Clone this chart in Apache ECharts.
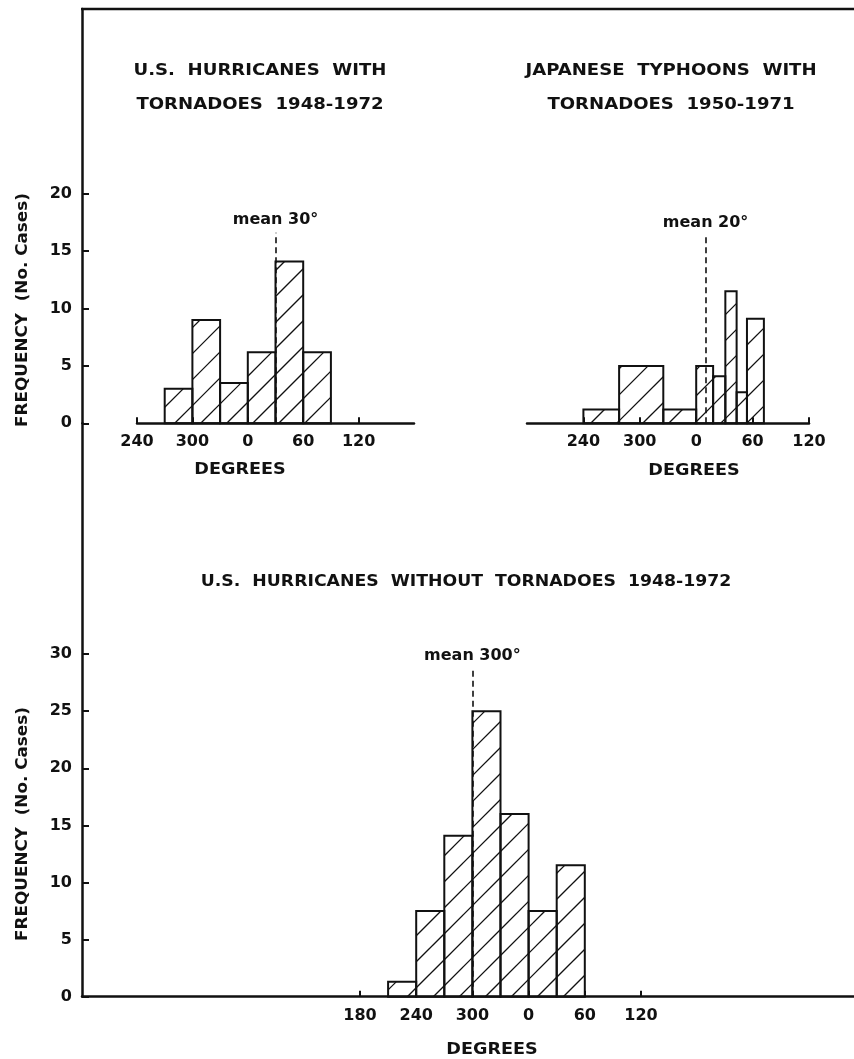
<!DOCTYPE html>
<html><head><meta charset="utf-8">
<script src="https://cdn.jsdelivr.net/npm/echarts@6/dist/echarts.min.js"></script>
<style>html,body{margin:0;padding:0;background:#fff}#c{width:854px;height:1059px}</style>
</head><body><div id="c"></div>
<script>
// ---------------- data (degrees, counts) ----------------
const usWithStart = [270, 300, 330, 0, 30, 60];
const usWithEnd   = [300, 330, 360, 30, 60, 90];
const usWithCount = [3, 9, 3.5, 6.2, 14.1, 6.2];
const usWithMeanPos = 30;
const usWithMeanLabel = 'mean 30°';

const jpStart = [240, 278, 325, 0, 18, 31, 43, 54];
const jpEnd   = [278, 325, 360, 18, 31, 43, 54, 72];
const jpCount = [1.2, 5, 1.2, 5, 4.1, 11.5, 2.7, 9.1];
const jpMeanPos = 10;
const jpMeanLabel = 'mean 20°';

const usWithoutStart = [210, 240, 270, 300, 330, 0, 30];
const usWithoutEnd   = [240, 270, 300, 330, 360, 30, 60];
const usWithoutCount = [1.3, 7.5, 14.1, 25, 16, 7.5, 11.5];
const usWithoutMeanPos = 300;
const usWithoutMeanLabel = 'mean 300°';

const degTicksTop = [240, 300, 0, 60, 120];
const degTicksBottom = [180, 240, 300, 0, 60, 120];
const freqTicksTop = [0, 5, 10, 15, 20];
const freqTicksBottom = [0, 5, 10, 15, 20, 25, 30];

const titleLeft = ['U.S.  HURRICANES  WITH', 'TORNADOES  1948-1972'];
const titleRight = ['JAPANESE  TYPHOONS  WITH', 'TORNADOES  1950-1971'];
const titleBottom = 'U.S.  HURRICANES  WITHOUT  TORNADOES  1948-1972';
const xName = 'DEGREES';
const yName = 'FREQUENCY  (No. Cases)';

// ---------------- helpers ----------------
// unwrap compass degrees so that the scale runs 180 -> 360/0 -> 180
function u(d) { return d >= 180 ? d + 360 : d + 720; }
function lab(v) { return String(Math.round(((v % 360) + 360) % 360)); }

const FONT = '"DejaVu Sans", "Liberation Sans", sans-serif';
const INK = '#111';
const HATCH = 26;

function histSeries(xi, yi, start, end, count, meanPos, meanTop, meanLabel) {
  return {
    type: 'custom', xAxisIndex: xi, yAxisIndex: yi, silent: true,
    data: start.map((s, i) => [u(s), u(end[i]), count[i]]),
    encode: { x: [0, 1], y: 2 },
    renderItem: function (params, api) {
      const a = api.coord([api.value(0), api.value(2)]);
      const b = api.coord([api.value(1), 0]);
      const x0 = a[0], y0 = a[1], x1 = b[0], y1 = b[1];
      const children = [];
      for (let c = Math.ceil((x0 + y0) / HATCH) * HATCH; c <= x1 + y1; c += HATCH) {
        const xa = Math.max(x0, c - y1), xb = Math.min(x1, c - y0);
        if (xb - xa < 0.5) continue;
        children.push({ type: 'line', shape: { x1: xa, y1: c - xa, x2: xb, y2: c - xb },
                        style: { stroke: INK, lineWidth: 1.3 } });
      }
      children.push({ type: 'rect', shape: { x: x0, y: y0, width: x1 - x0, height: y1 - y0 },
                      style: { fill: 'none', stroke: INK, lineWidth: 2 } });
      return { type: 'group', children: children };
    },
    markLine: {
      silent: true, symbol: ['none', 'none'], animation: false,
      lineStyle: { color: INK, type: [6, 4], width: 1.6 },
      label: { show: true, position: 'end', formatter: meanLabel, color: INK,
               fontSize: 16, fontWeight: 'bold', fontFamily: FONT, distance: 5 },
      data: [[{ coord: [u(meanPos), 0] }, { coord: [u(meanPos), meanTop] }]]
    }
  };
}

function xAxisCfg(gi, min, max, ticks) {
  return {
    type: 'value', gridIndex: gi, min: min, max: max,
    axisLine: { show: true, lineStyle: { color: INK, width: 2.5 } },
    axisTick: { show: true, inside: true, length: 6, lineStyle: { color: INK, width: 2 },
                customValues: ticks.map(u) },
    axisLabel: { show: true, customValues: ticks.map(u), formatter: lab, margin: 11,
                 color: INK, fontSize: 16, fontWeight: 'bold', fontFamily: FONT },
    splitLine: { show: false }
  };
}
function yAxisCfg(gi, max, ticks, show, offset) {
  return {
    type: 'value', gridIndex: gi, min: 0, max: max, show: show, offset: offset || 0,
    axisLine: { show: true, lineStyle: { color: INK, width: 2.5 } },
    axisTick: { show: true, inside: true, length: 7, lineStyle: { color: INK, width: 2 },
                customValues: ticks },
    axisLabel: { show: true, customValues: ticks, margin: 10,
                 color: INK, fontSize: 16, fontWeight: 'bold', fontFamily: FONT },
    splitLine: { show: false }
  };
}

function txt(x, y, s, size, sx, rot) {
  return { type: 'text', x: x, y: y, rotation: rot || 0, scaleX: sx || 1, silent: true,
    style: { text: s, fill: INK, font: 'bold ' + size + 'px ' + FONT,
             align: 'center', verticalAlign: 'middle' } };
}

const chart = echarts.init(document.getElementById('c'), null, { renderer: 'canvas' });
chart.setOption({
  backgroundColor: '#fff',
  animation: false,
  grid: [
    { left: 137, right: 440, top: 9, bottom: 635.7, containLabel: false, outerBoundsMode: 'none' },
    { left: 527, right: 45, top: 9, bottom: 635.7, containLabel: false, outerBoundsMode: 'none' },
    { left: 82, right: 0, top: 423.3, bottom: 62.3, containLabel: false, outerBoundsMode: 'none' }
  ],
  xAxis: [
    xAxisCfg(0, 600, 900, degTicksTop),
    xAxisCfg(1, 540, 840, degTicksTop),
    xAxisCfg(2, 243.2, 1067.4, degTicksBottom)
  ],
  yAxis: [
    yAxisCfg(0, 36.09, freqTicksTop, true, 55),
    yAxisCfg(1, 36.09, freqTicksTop, false, 0),
    yAxisCfg(2, 50.2, freqTicksBottom, true, 0)
  ],
  series: [
    histSeries(0, 0, usWithStart, usWithEnd, usWithCount, usWithMeanPos, 16.6, usWithMeanLabel),
    histSeries(1, 1, jpStart, jpEnd, jpCount, jpMeanPos, 16.3, jpMeanLabel),
    histSeries(2, 2, usWithoutStart, usWithoutEnd, usWithoutCount, usWithoutMeanPos, 28.7, usWithoutMeanLabel)
  ],
  graphic: [
    { type: 'line', silent: true, shape: { x1: 81, y1: 9, x2: 854, y2: 9 },
      style: { stroke: INK, lineWidth: 2.5 } },
    txt(260, 71, titleLeft[0], 16, 1.13),
    txt(260, 105, titleLeft[1], 16, 1.13),
    txt(671, 71, titleRight[0], 16, 1.13),
    txt(671, 105, titleRight[1], 16, 1.13),
    txt(466, 582, titleBottom, 16, 1.08),
    txt(240, 470, xName, 16, 1.1),
    txt(694, 471, xName, 16, 1.1),
    txt(492, 1050, xName, 16, 1.1),
    txt(23, 310, yName, 16, 1.05, Math.PI / 2),
    txt(23, 824, yName, 16, 1.05, Math.PI / 2)
  ]
});
</script>
</body></html>
